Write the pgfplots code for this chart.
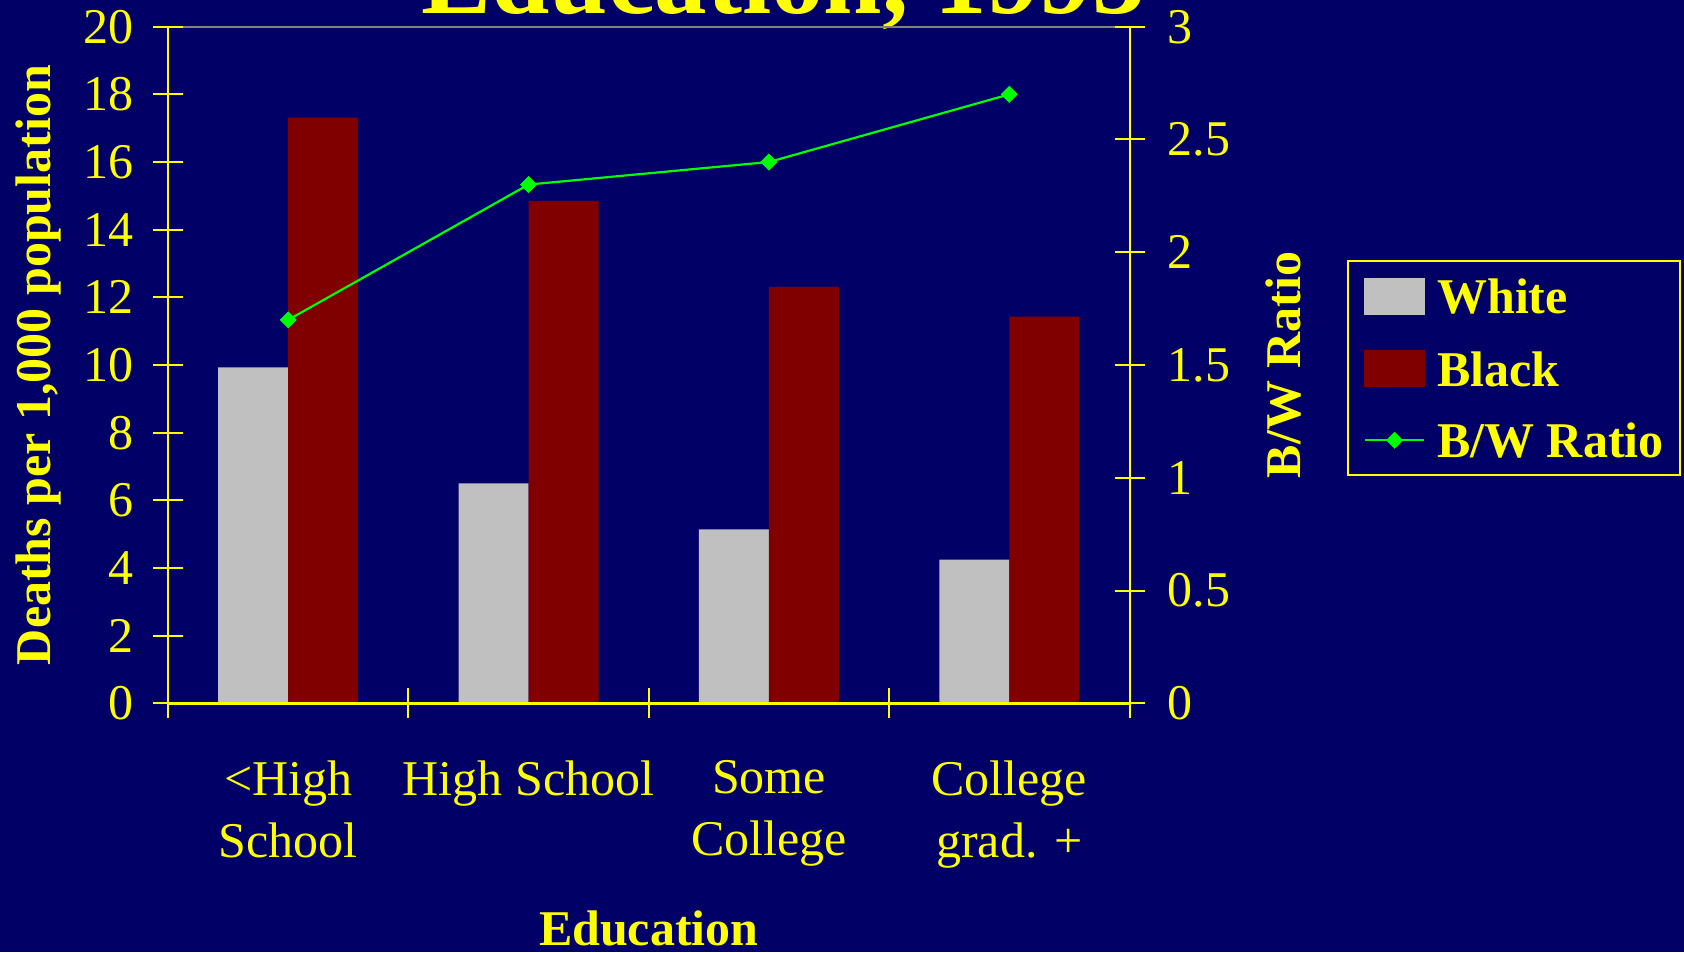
\documentclass[border=0pt]{standalone}
\usepackage{fontspec}
\setmainfont{Liberation Serif}
\usepackage{pgfplots}
\pgfplotsset{compat=1.18}
\definecolor{bg}{HTML}{000066}
\definecolor{wbar}{HTML}{C0C0C0}
\definecolor{bbar}{HTML}{800000}
\definecolor{ratioc}{HTML}{00FF00}
\definecolor{ylw}{HTML}{FFFF00}
\tikzset{lbl/.style={text=ylw, font=\bfseries\fontsize{25}{30}\selectfont, inner sep=0pt}}
\pgfplotsset{
  wlegend/.style={legend image code/.code={\fill[wbar] (0pt,-8.75pt) rectangle (29.5pt,8.75pt);}},
  blegend/.style={legend image code/.code={\fill[bbar] (0pt,-8.75pt) rectangle (29.5pt,8.75pt);}},
  rlegend/.style={legend image code/.code={\draw[mark repeat=2,mark phase=2,##1] plot coordinates {(0pt,0pt) (14.75pt,0pt) (29.5pt,0pt)};}},
  common/.style={
    at={(84pt,124.35pt)}, anchor=south west,
    scale only axis, width=480.75pt, height=338.3pt,
    xmin=-0.5, xmax=3.5,
    /pgf/number format/assume math mode=true,
    tick label style={text=ylw, font=\fontsize{25}{31}\selectfont},
    tick align=center, major tick length=15pt,
    tick style={ylw, line width=1pt},
  },
}
\begin{document}
\begin{tikzpicture}
\fill[bg] (0,0) rectangle (842pt,476pt);
\node[anchor=base, text=ylw, font=\bfseries\fontsize{52.5}{60}\selectfont, inner sep=0pt] at (391.5pt,469pt) {Education, 1993};
\begin{axis}[common,
  ymin=0, ymax=20,
  axis x line=bottom, axis y line=left,
  x axis line style={ylw, line width=1.4pt, -},
  y axis line style={ylw, line width=1pt, -},
  axis on top=true,
  xtick={-0.5,0.5,1.5,2.5,3.5},
  x tick label as interval,
  xticklabels={{<High\\School},{High School},{Some\\College},{College\\grad. +}},
  xticklabel style={align=center, anchor=north, inner sep=0pt, yshift=-20.85pt},
  ytick={0,2,...,20},
  yticklabel style={anchor=east, inner sep=0pt, xshift=-9.5pt},
  ylabel={Deaths per 1,000 population},
  ylabel style={lbl, at={(axis description cs:-0.1227,0.5)}, anchor=base},
  xlabel={Education},
  xlabel style={lbl, at={(axis description cs:0.5,-0.3575)}, anchor=base},
]
\draw[gray, line width=1pt, shorten <=7.5pt, shorten >=7.5pt] (axis description cs:0,1) -- (axis description cs:1,1);
\addplot[ybar, bar width=35pt, bar shift=-17.5pt, fill=wbar, draw=none]
  coordinates {(0,9.93) (1,6.50) (2,5.14) (3,4.25)};
\addplot[ybar, bar width=35pt, bar shift=17.5pt, fill=bbar, draw=none]
  coordinates {(0,17.31) (1,14.85) (2,12.31) (3,11.43)};
\end{axis}
\begin{axis}[common,
  ymin=0, ymax=3,
  axis x line=none, axis y line=right,
  y axis line style={ylw, line width=1pt, -},
  ytick={0,0.5,...,3},
  yticklabel style={anchor=west, inner sep=0pt, xshift=11.5pt},
  ylabel={B/W Ratio},
  ylabel style={lbl, at={(axis description cs:1.1773,0.5)}, anchor=base},
  legend style={at={(axis description cs:1.2262,0.6552)}, anchor=north west,
    draw=ylw, line width=1pt, fill=bg, text=ylw,
    font=\bfseries\fontsize{25}{30}\selectfont,
    inner xsep=8pt, inner ysep=8.4pt, row sep=17.75pt, column sep=6pt,
    nodes={inner sep=0pt, text height=17.5pt, text depth=0pt}},
  legend cell align=left,
]
\addlegendimage{wlegend}
\addlegendentry{White}
\addlegendimage{blegend}
\addlegendentry{Black}
\addplot[ratioc, line width=1.1pt, mark=square*, mark size=2.47pt, mark options={rotate=45, solid, fill=ratioc}, rlegend]
  coordinates {(0,1.70) (1,2.30) (2,2.40) (3,2.70)};
\addlegendentry{B/W Ratio}
\end{axis}
\pgfresetboundingbox
\path[use as bounding box] (0,0) rectangle (842pt,476pt);
\end{tikzpicture}
\end{document}
